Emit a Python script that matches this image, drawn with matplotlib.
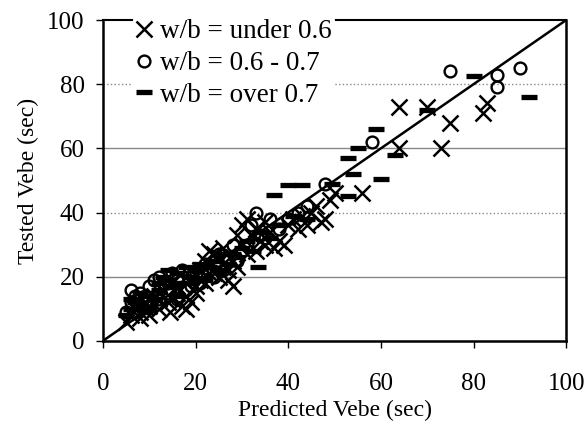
import matplotlib
matplotlib.use("Agg")
import matplotlib.pyplot as plt

plt.rcParams['font.family'] = ['Liberation Serif', 'DejaVu Serif']

# w/b under 0.6 (crosses)
under_x = [5, 6, 7, 8, 9, 10, 11, 12, 13, 14, 15, 16, 17, 18, 14.5, 19, 20, 21, 22, 23, 24, 25, 26, 27, 28,
           29, 30, 31, 30, 32, 33, 34, 35, 36, 37, 38, 39, 40, 41, 42, 43, 44, 45, 46, 47, 48, 49, 50,
           56, 64, 64, 70, 73, 75, 82, 83,
           15, 16, 18, 20, 22, 24, 26, 28, 19, 21, 23, 25, 27, 12, 10, 8, 31, 33, 35, 29]
under_y = [6, 8, 10, 9, 12, 11, 14, 13, 16, 12, 18, 15, 11, 10, 9, 20, 17, 22, 25, 28, 21, 26, 24, 19, 17,
           23, 30, 38, 36, 33, 28, 31, 37, 34, 29, 31, 30, 36, 38, 35, 39, 36, 40, 42, 37, 38, 44, 46,
           46, 60, 73, 73, 60, 68, 71, 74,
           13, 17, 14, 15, 18, 27, 29, 25, 12, 19, 21, 20, 22, 10, 8, 7, 27, 35, 30, 33]

# w/b 0.6 - 0.7 (circles)
mid_x = [5, 6, 7, 8, 9, 10, 11, 12, 13, 14, 15, 16, 17, 18, 20, 22, 24, 25, 27, 28, 30, 32, 33, 35,
         38, 40, 42, 44, 48, 58, 75, 85, 85, 90,
         6, 7, 9, 10, 12, 14, 16, 19, 21, 23, 26, 29, 31, 34, 36]
mid_y = [9, 16, 14, 15, 12, 17, 19, 20, 18, 15, 21, 19, 22, 16, 21, 24, 20, 27, 26, 30, 28, 36, 40, 32,
         35, 38, 40, 42, 49, 62, 84, 83, 79, 85,
         12, 9, 14, 11, 13, 18, 13, 17, 18, 22, 22, 25, 30, 33, 38]

# w/b over 0.7 (dashes)
over_x = [5, 6, 7, 8, 9, 10, 11, 12, 13, 14, 15, 16, 17, 18, 19, 20, 22, 25, 28, 30, 32.5, 33.5,
          37, 40, 43, 49.5, 53, 54, 60, 53, 55, 63, 59, 70, 80, 92,
          6, 8, 10, 12, 14, 16, 18, 20, 21, 23, 24, 26, 27, 29, 31, 34, 36, 38, 41, 44]
over_y = [8, 10, 12, 11, 9, 14, 13, 16, 20, 22, 17, 21, 18, 23, 20, 22, 19, 22, 27, 29, 28, 23,
          45.5, 48.5, 48.5, 49, 45, 52, 50.5, 57, 60, 58, 66, 72, 82.5, 76,
          13, 15, 10, 18, 19, 14, 18, 19, 24, 23, 25, 27, 24, 26, 31, 34, 32, 36, 39, 38]

fig = plt.figure(figsize=(5.88, 4.45), dpi=100)
ax = fig.add_axes([0.175, 0.234, 0.788, 0.721])

for yv, ls in [(20, '-'), (40, ':'), (60, '-'), (80, ':')]:
    ax.axhline(yv, color='#888888', lw=1.0, ls=ls, zorder=0)

ax.plot([0, 100], [0, 100], color='black', lw=1.8, zorder=2)

ax.plot(under_x, under_y, ls='none', marker='x', ms=11, mew=1.8, color='black',
        label='w/b = under 0.6', zorder=3)
ax.plot(mid_x, mid_y, ls='none', marker='o', ms=8.5, mew=1.7, mfc='none', mec='black',
        label='w/b = 0.6 - 0.7', zorder=3)
ax.plot(over_x, over_y, ls='none', marker='_', ms=11, mew=3.8, color='black',
        label='w/b = over 0.7', zorder=3)

ax.set_xlim(0, 100)
ax.set_ylim(0, 100)
ax.set_xticks([0, 20, 40, 60, 80, 100])
ax.set_yticks([0, 20, 40, 60, 80, 100])
ax.tick_params(direction='out', length=5, width=1, labelsize=18)
ax.tick_params(axis='x', pad=18)
ax.tick_params(axis='y', pad=8)
for s in ['left', 'bottom', 'right']:
    ax.spines[s].set_linewidth(1.8)
ax.spines['top'].set_linewidth(1.5)

ax.set_xlabel('Predicted Vebe (sec)', fontsize=17, labelpad=4)
ax.set_ylabel('Tested Vebe (sec)', fontsize=17, labelpad=6)

leg = ax.legend(loc='upper left', bbox_to_anchor=(0.064, 1.015), frameon=True, fontsize=19.5,
                handlelength=0.55, handletextpad=0.3, labelspacing=0.25, borderpad=0.15,
                borderaxespad=0)
leg.get_frame().set_edgecolor('none')
leg.get_frame().set_facecolor('white')
leg.get_frame().set_alpha(1)
leg.set_zorder(5)

fig.savefig('out.png', dpi=100)
